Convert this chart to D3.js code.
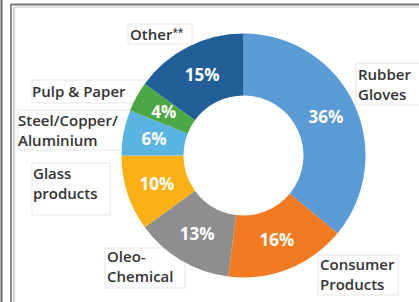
<!DOCTYPE html>
<html>
<head>
<meta charset="utf-8">
<script src="https://cdn.jsdelivr.net/npm/d3@7"></script>
<style>
  body { margin: 0; background: #fff; }
  svg { display: block; font-family: 'Open Sans', 'Noto Sans', sans-serif; }
</style>
</head>
<body>
<svg id="chart" width="419" height="302"></svg>
<script>
// data
const categories = ['Rubber Gloves', 'Consumer Products', 'Oleo-Chemical', 'Glass products',
  'Steel/Copper/Aluminium', 'Pulp & Paper', 'Other**'];
const shares = [36, 16, 13, 10, 6, 4, 15];
const labelLines = [
  ['Rubber', 'Gloves'],
  ['Consumer', 'Products'],
  ['Oleo-', 'Chemical'],
  ['Glass', 'products'],
  ['Steel/Copper/', 'Aluminium'],
  ['Pulp & Paper'],
  ['Other'],
];
const colours = ['#5b9bd5', '#f27b21', '#8e8e8e', '#fbb016', '#5ab4e2', '#4ba845', '#225f98'];

// layout of the callout boxes (x, y, w, h) and text start
const boxes = [
  { x: 356, y: 63, w: 70, h: 42, tx: 358, ty: 80 },
  { x: 318, y: 255, w: 80, h: 40, tx: 320, ty: 270 },
  { x: 105, y: 248, w: 80, h: 40, tx: 107, ty: 262 },
  { x: 32, y: 163, w: 78, h: 52, tx: 33, ty: 179 },
  { x: 18, y: 110, w: 130, h: 40, tx: 18, ty: 126 },
  { x: 32, y: 80, w: 120, h: 23, tx: 32, ty: 97 },
  { x: 128, y: 24, w: 64, h: 20, tx: 130, ty: 40 },
];
const lineGap = 20;

const svg = d3.select('#chart');
const cx = 243.5;
const cy = 155.5;
const outerR = 122;
const innerR = 60;

// frame lines
svg.append('line').attr('x1', 1.5).attr('x2', 1.5).attr('y1', 0).attr('y2', 302)
  .attr('stroke', '#666').attr('stroke-width', 2);
svg.append('line').attr('x1', 11).attr('x2', 11).attr('y1', 4).attr('y2', 302)
  .attr('stroke', '#666').attr('stroke-width', 1.5);
svg.append('line').attr('x1', 11).attr('x2', 419).attr('y1', 4.5).attr('y2', 4.5)
  .attr('stroke', '#777').attr('stroke-width', 2);
svg.append('line').attr('x1', 14).attr('x2', 14).attr('y1', 7).attr('y2', 302)
  .attr('stroke', '#aaa').attr('stroke-width', 1);
svg.append('line').attr('x1', 14).attr('x2', 419).attr('y1', 7).attr('y2', 7)
  .attr('stroke', '#ccc').attr('stroke-width', 1);

// callout boxes sit behind the donut
const boxLayer = svg.append('g');
boxes.forEach((b) => {
  boxLayer.append('rect')
    .attr('x', b.x).attr('y', b.y).attr('width', b.w).attr('height', b.h)
    .attr('fill', '#fff').attr('stroke', '#e6e6e6').attr('stroke-width', 1);
});

const pie = d3.pie().sort(null).value((d) => d);
const arcs = pie(shares);
const arc = d3.arc().innerRadius(innerR).outerRadius(outerR);

const g = svg.append('g').attr('transform', `translate(${cx},${cy})`);

g.selectAll('path')
  .data(arcs)
  .enter()
  .append('path')
  .attr('d', arc)
  .attr('fill', (d, i) => colours[i]);

g.selectAll('text.pct')
  .data(arcs)
  .enter()
  .append('text')
  .attr('class', 'pct')
  .attr('transform', (d) => `translate(${arc.centroid(d)})`)
  .attr('text-anchor', 'middle')
  .attr('dy', '0.36em')
  .attr('fill', '#fff')
  .attr('font-weight', 'bold')
  .attr('font-size', '17px')
  .text((d) => `${d.data}%`);

// callout labels, one text element per line
const labels = svg.append('g');
categories.forEach((c, i) => {
  const b = boxes[i];
  labelLines[i].forEach((line, j) => {
    const t = labels.append('text')
      .attr('x', b.tx).attr('y', b.ty + j * lineGap)
      .attr('fill', '#333')
      .attr('font-size', '15px')
      .attr('font-weight', 600)
      .text(line);
    if (j === 0 && c.endsWith('**')) {
      t.append('tspan').attr('font-size', '10px').attr('dy', -4).text('**');
    }
  });
});
</script>
</body>
</html>
